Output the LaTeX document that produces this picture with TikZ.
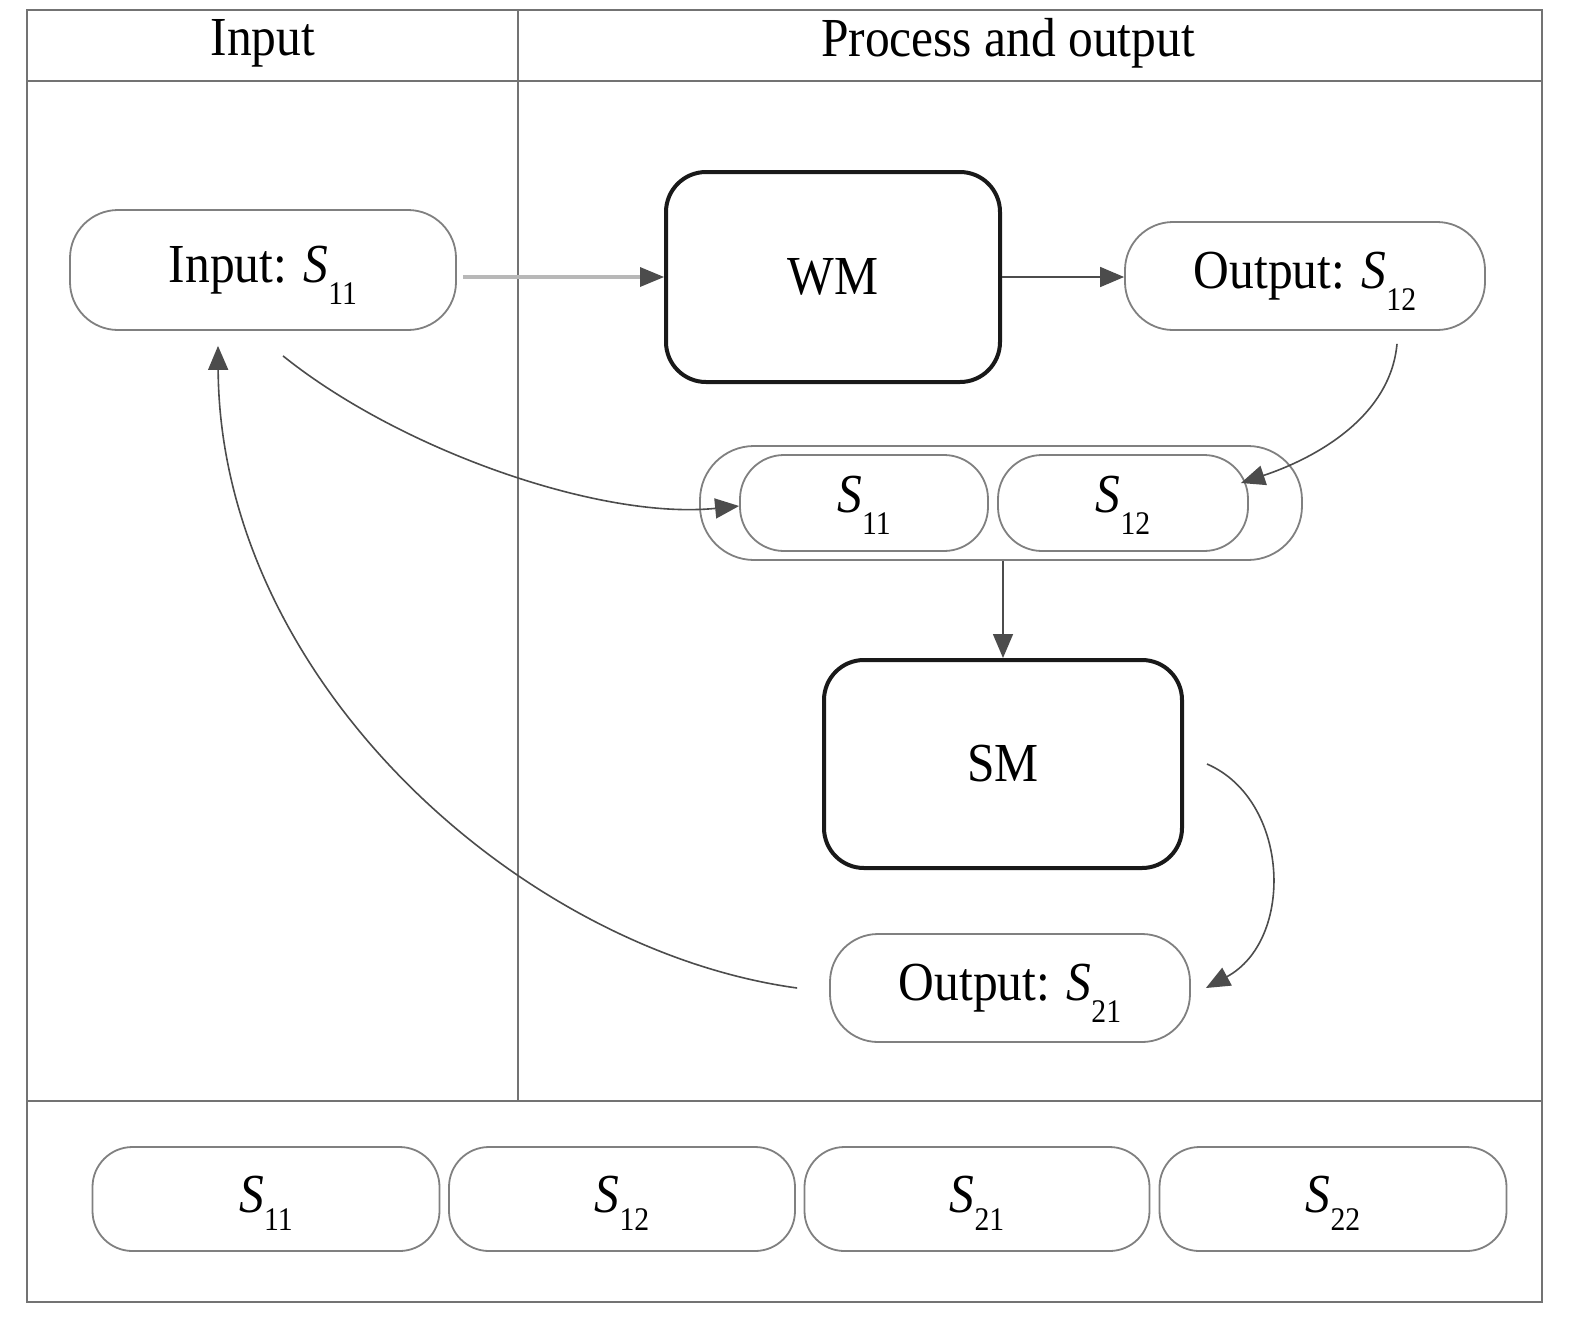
\documentclass[tikz,border=0pt]{standalone}
\usepackage{fontspec}
\setmainfont{Liberation Serif}[FakeStretch=0.9]
\usetikzlibrary{arrows.meta}
\newcommand{\Sub}[2][22pt]{\textit{S}\raisebox{-#1}[0pt][0pt]{\fontsize{33}{33}\selectfont #2}}
\begin{document}
\begin{tikzpicture}[x=1pt,y=-1pt,
  lbl/.style={font=\fontsize{55}{60}\selectfont},
  pill/.style={draw=black!50,line width=1.8pt,rounded corners=48pt,fill=white,inner sep=0pt,lbl},
  spill/.style={pill,rounded corners=44pt,text height=18pt,text depth=0pt},
  bpill/.style={pill,rounded corners=40pt,minimum height=104pt,text height=26pt,text depth=0pt},
  mod/.style={draw=black!90,line width=4pt,rounded corners=40pt,fill=white,inner sep=0pt,lbl},
  frame/.style={draw=black!55,line width=2pt},
  arr/.style={draw=black!70,line width=1.6pt,-{Triangle[length=24pt,width=20pt]}}]
\useasboundingbox (0,0) rectangle (1575,1318);
% frame
\draw[frame] (27,10) rectangle (1542,1302);
\draw[frame] (27,81) -- (1542,81);
\draw[frame] (27,1101) -- (1542,1101);
\draw[frame,line width=1.4pt] (518,10) -- (518,1101);
\node[lbl] (hin) at (263,43) {Input};
\node[lbl] (hpo) at (1008,43) {Process and output};
% nodes
\node[pill,minimum width=386pt,minimum height=120pt] (in) at (263,270) {Input: \Sub{11}};
\node[mod,minimum width=334pt,minimum height=210pt] (wm) at (833,277) {WM};
\node[pill,minimum width=360pt,minimum height=108pt] (o12) at (1305,276) {Output: \Sub{12}};
\node[pill,minimum width=602pt,minimum height=114pt,rounded corners=54pt] (grp) at (1001,503) {};
\node[spill,minimum width=248pt,minimum height=96pt] (g11) at (864,503) {\Sub{11}};
\node[spill,minimum width=250pt,minimum height=96pt] (g12) at (1123,503) {\Sub{12}};
\node[mod,minimum width=358pt,minimum height=208pt] (sm) at (1003,764) {SM};
\node[pill,minimum width=360pt,minimum height=108pt] (o21) at (1010,988) {Output: \Sub{21}};
\node[bpill,minimum width=347pt] (b1) at (266,1199) {\Sub[18pt]{11}};
\node[bpill,minimum width=346pt] (b2) at (622,1199) {\Sub[18pt]{12}};
\node[bpill,minimum width=345pt] (b3) at (977,1199) {\Sub[18pt]{21}};
\node[bpill,minimum width=347pt] (b4) at (1333,1199) {\Sub[18pt]{22}};
% connectors
\coordinate (inE) at ([shift={(6,7)}]in.east);
\coordinate (inS) at ([shift={(20,25)}]in.south);
\coordinate (inA) at ([shift={(-45,15)}]in.south);
\coordinate (o12S) at ([shift={(92,13)}]o12.south);
\coordinate (g12E) at ([shift={(-8,-20)}]g12.east);
\coordinate (smE) at ([shift={(23,0)}]sm.east);
\coordinate (o21E) at ([shift={(15,0)}]o21.east);
\coordinate (o21W) at ([shift={(-32,0)}]o21.west);
\draw[draw=black!28,line width=3.5pt,-{Triangle[length=24pt,width=20pt,color=black!70,fill=black!70,line width=0pt]}] (inE) -- (inE -| wm.west);
\draw[arr] (wm.east) -- (wm.east -| o12.west);
\draw[arr] (inS) .. controls (400,450) and (600,520) .. ([yshift=-3pt]g11.west);
\draw[arr] (o12S) .. controls (1390,420) and (1310,460) .. (g12E);
\draw[arr] (sm.north |- grp.south) -- (sm.north);
\draw[arr] (smE) .. controls (1290,800) and (1295,940) .. (o21E);
\draw[arr] (o21W) .. controls (520,950) and (220,680) .. (inA);
\end{tikzpicture}
\end{document}
